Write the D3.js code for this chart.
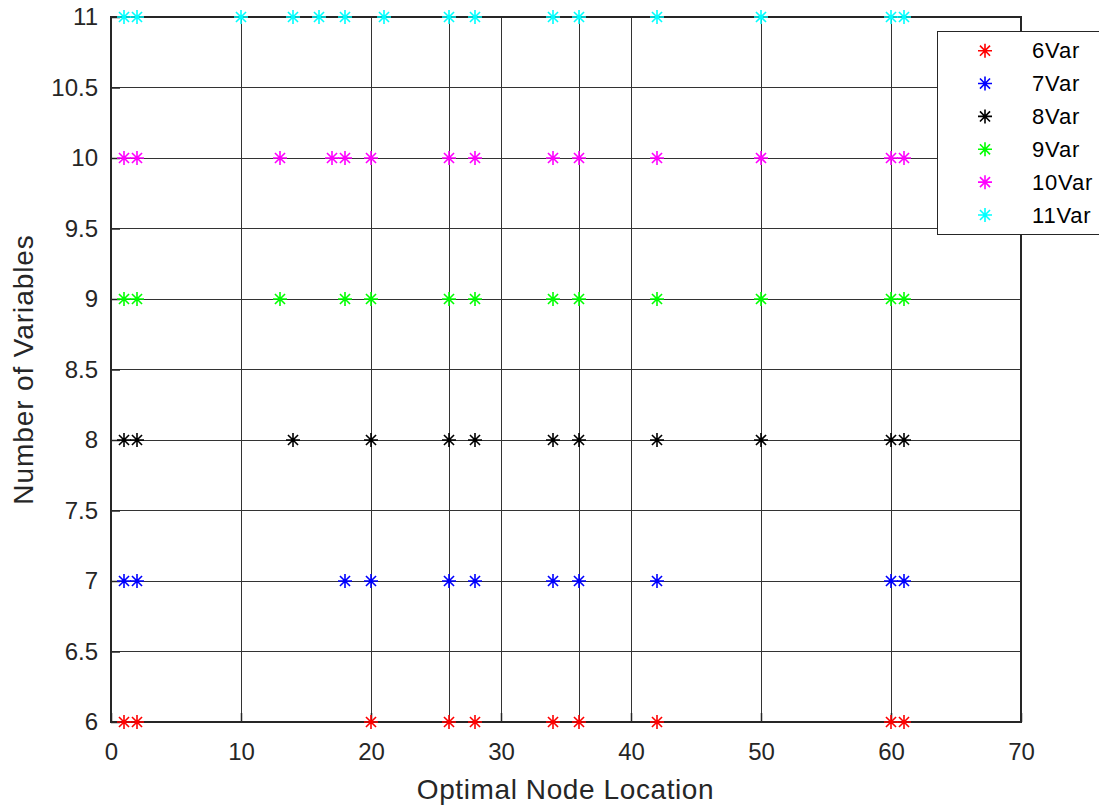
<!DOCTYPE html>
<html>
<head>
<meta charset="utf-8">
<script src="https://cdn.jsdelivr.net/npm/d3@7"></script>
<style>
  html, body { margin: 0; padding: 0; background: #fff; }
  svg { display: block; font-family: "Liberation Sans", Arial, Helvetica, sans-serif; }
</style>
</head>
<body>
<svg id="chart" width="1099" height="808"></svg>
<script>
// Optimal node locations found for each problem size
const seriesNames = ["6Var", "7Var", "8Var", "9Var", "10Var", "11Var"];
const seriesLevels = [6, 7, 8, 9, 10, 11];
const seriesColors = ["#ff0000", "#0000ff", "#000000", "#00ff00", "#ff00ff", "#00ffff"];

const nodes6Var  = [1, 2, 20, 26, 28, 34, 36, 42, 60, 61];
const nodes7Var  = [1, 2, 18, 20, 26, 28, 34, 36, 42, 60, 61];
const nodes8Var  = [1, 2, 14, 20, 26, 28, 34, 36, 42, 50, 60, 61];
const nodes9Var  = [1, 2, 13, 18, 20, 26, 28, 34, 36, 42, 50, 60, 61];
const nodes10Var = [1, 2, 13, 17, 18, 20, 26, 28, 34, 36, 42, 50, 60, 61];
const nodes11Var = [1, 2, 10, 14, 16, 18, 21, 26, 28, 34, 36, 42, 50, 60, 61];
const seriesNodes = [nodes6Var, nodes7Var, nodes8Var, nodes9Var, nodes10Var, nodes11Var];

const xTicks = [0, 10, 20, 30, 40, 50, 60, 70];
const yTicks = [6, 6.5, 7, 7.5, 8, 8.5, 9, 9.5, 10, 10.5, 11];
const yTickLabels = ["6", "6.5", "7", "7.5", "8", "8.5", "9", "9.5", "10", "10.5", "11"];
const markerLines = [26, 36];

const svg = d3.select("#chart");
const plotLeft = 111, plotRight = 1021, plotTop = 17, plotBottom = 722;
const axisColor = "#262626";

const x = d3.scaleLinear().domain([0, 70]).range([plotLeft, plotRight]);
const y = d3.scaleLinear().domain([6, 11]).range([plotBottom, plotTop]);

// grid
const grid = svg.append("g").attr("shape-rendering", "crispEdges");
grid.selectAll("line.gy").data(yTicks).join("line")
  .attr("x1", plotLeft).attr("x2", plotRight)
  .attr("y1", d => y(d)).attr("y2", d => y(d))
  .attr("stroke", "#333").attr("stroke-width", 1);
grid.selectAll("line.gx").data(xTicks.concat(markerLines)).join("line")
  .attr("x1", d => x(d)).attr("x2", d => x(d))
  .attr("y1", plotTop).attr("y2", plotBottom)
  .attr("stroke", "#333").attr("stroke-width", 1);

// axes (inward ticks)
const xAxis = svg.append("g")
  .attr("transform", `translate(0,${plotBottom})`)
  .call(d3.axisBottom(x).tickValues(xTicks).tickFormat(d3.format("d")).tickSizeInner(-9).tickSizeOuter(0).tickPadding(21));
const yAxis = svg.append("g")
  .attr("transform", `translate(${plotLeft},0)`)
  .call(d3.axisLeft(y).tickValues(yTicks).tickFormat((d, i) => yTickLabels[i]).tickSizeInner(-9).tickSizeOuter(0).tickPadding(13));

[xAxis, yAxis].forEach(a => {
  a.select(".domain").remove();
  a.selectAll(".tick line").attr("stroke", axisColor).attr("stroke-width", 1.5);
  a.selectAll(".tick text").attr("fill", axisColor).attr("font-size", 24)
    .attr("font-family", "'Liberation Sans', Arial, sans-serif");
});

// box
svg.append("rect")
  .attr("x", plotLeft).attr("y", plotTop)
  .attr("width", plotRight - plotLeft).attr("height", plotBottom - plotTop)
  .attr("fill", "none").attr("stroke", axisColor).attr("stroke-width", 1.5)
  .attr("shape-rendering", "crispEdges");

// asterisk marker
function asterisk(r) {
  const d = r * 0.72;
  return `M${-r},0L${r},0M0,${-r}L0,${r}M${-d},${-d}L${d},${d}M${-d},${d}L${d},${-d}`;
}
const starPath = asterisk(7);

const points = svg.append("g");
seriesNodes.forEach((nodes, i) => {
  points.append("g").selectAll("path").data(nodes).join("path")
    .attr("d", starPath)
    .attr("transform", d => `translate(${x(d)},${y(seriesLevels[i])})`)
    .attr("fill", "none")
    .attr("stroke", seriesColors[i])
    .attr("stroke-width", 1.6);
});

// axis titles
svg.append("text")
  .attr("x", (plotLeft + plotRight) / 2 - 0.5).attr("y", 799)
  .attr("text-anchor", "middle").attr("fill", axisColor).attr("font-size", 28)
  .attr("letter-spacing", 0.6)
  .text("Optimal Node Location");
svg.append("text")
  .attr("transform", `translate(33,${(plotTop + plotBottom) / 2}) rotate(-90)`)
  .attr("text-anchor", "middle").attr("fill", axisColor).attr("font-size", 28)
  .attr("letter-spacing", 0.9)
  .text("Number of Variables");

// legend
const legend = svg.append("g");
legend.append("rect")
  .attr("x", 937).attr("y", 31).attr("width", 200).attr("height", 203)
  .attr("fill", "#fff").attr("stroke", axisColor).attr("stroke-width", 1)
  .attr("shape-rendering", "crispEdges");
const rowY = d3.scaleLinear().domain([0, 5]).range([50.7, 215]);
seriesNames.forEach((name, i) => {
  legend.append("path")
    .attr("d", starPath)
    .attr("transform", `translate(985,${rowY(i)})`)
    .attr("fill", "none").attr("stroke", seriesColors[i]).attr("stroke-width", 1.6);
  legend.append("text")
    .attr("x", 1032).attr("y", rowY(i)).attr("dy", "0.35em")
    .attr("fill", "#000").attr("font-size", 22)
    .attr("letter-spacing", 0.8)
    .text(name);
});
</script>
</body>
</html>
